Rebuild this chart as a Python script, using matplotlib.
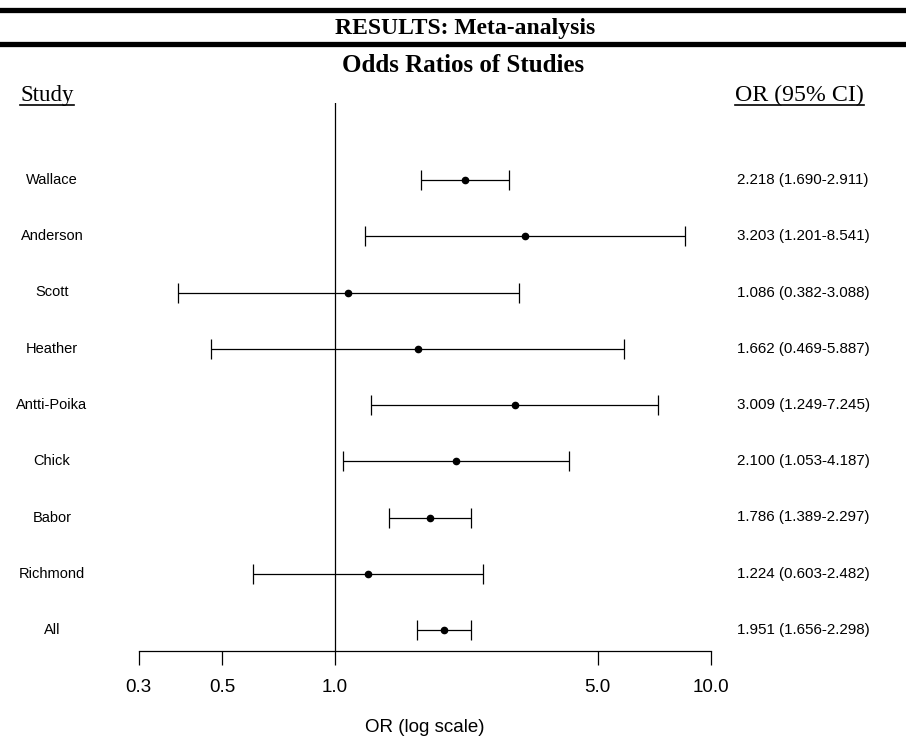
import matplotlib
matplotlib.use('Agg')
import matplotlib.pyplot as plt
import matplotlib.transforms as mtransforms
from matplotlib.lines import Line2D

studies = ['Wallace', 'Anderson', 'Scott', 'Heather', 'Antti-Poika', 'Chick', 'Babor', 'Richmond', 'All']
odds = [2.218, 3.203, 1.086, 1.662, 3.009, 2.100, 1.786, 1.224, 1.951]
lower = [1.690, 1.201, 0.382, 0.469, 1.249, 1.053, 1.389, 0.603, 1.656]
upper = [2.911, 8.541, 3.088, 5.887, 7.245, 4.187, 2.297, 2.482, 2.298]
tick_vals = [0.3, 0.5, 1.0, 5.0, 10.0]
tick_labels = ['0.3', '0.5', '1.0', '5.0', '10.0']

serif = ['Liberation Serif', 'DejaVu Serif']
sans = ['Liberation Sans', 'DejaVu Sans']

fig = plt.figure(figsize=(9.06, 7.37), dpi=100)
W, H = 906, 737

ax = fig.add_axes([138.6 / W, 1 - 651 / H, (710.7 - 138.6) / W, (651 - 103) / H])

ypos = list(range(len(studies)))
xerr = [[o - l for o, l in zip(odds, lower)], [u - o for o, u in zip(odds, upper)]]
ax.errorbar(odds, ypos, xerr=xerr, fmt='o', color='black', ms=4.5,
            elinewidth=0.9, capsize=7.5, capthick=0.9)
ax.axvline(1.0, color='black', lw=0.9)

ax.set_xscale('log')
ax.set_xlim(0.3, 10)
ax.set_ylim(8 + 21 / 56.25, -77 / 56.25)
ax.set_xticks(tick_vals)
ax.set_xticklabels(tick_labels, fontfamily=sans, fontsize=13.5)
ax.xaxis.set_minor_locator(matplotlib.ticker.NullLocator())
ax.tick_params(axis='x', direction='out', length=10, width=0.9, pad=10)
ax.set_yticks([])
for s in ['top', 'left', 'right']:
    ax.spines[s].set_visible(False)
ax.spines['bottom'].set_linewidth(0.9)
ax.set_xlabel('OR (log scale)', fontfamily=sans, fontsize=13.5, labelpad=17)

# study names and OR text columns
trans = mtransforms.blended_transform_factory(fig.transFigure, ax.transData)
for i, name in enumerate(studies):
    ax.text(52 / W, i, name, transform=trans, ha='center', va='center',
            fontfamily=sans, fontsize=10.5, clip_on=False)
    txt = '%.3f (%.3f-%.3f)' % (odds[i], lower[i], upper[i])
    ax.text(737 / W, i, txt, transform=trans, ha='left', va='center',
            fontfamily=sans, fontsize=10.9, clip_on=False)

# header
fig.add_artist(Line2D([0, 1], [1 - 10 / H, 1 - 10 / H], color='black', lw=3.8))
fig.add_artist(Line2D([0, 1], [1 - 44 / H, 1 - 44 / H], color='black', lw=3.8))
fig.text(465 / W, 1 - 34 / H, 'RESULTS: Meta-analysis', ha='center', va='baseline',
         fontfamily=serif, fontweight='bold', fontsize=17)
fig.text(463 / W, 1 - 72 / H, 'Odds Ratios of Studies', ha='center', va='baseline',
         fontfamily=serif, fontweight='bold', fontsize=18)
t1 = fig.text(20 / W, 1 - 101 / H, 'Study', ha='left', va='baseline',
              fontfamily=serif, fontsize=16.5)
t2 = fig.text(735 / W, 1 - 101 / H, 'OR (95% CI)', ha='left', va='baseline',
              fontfamily=serif, fontsize=17.2)

fig.canvas.draw()
r = fig.canvas.get_renderer()
for t in [t1, t2]:
    bb = t.get_window_extent(r).transformed(fig.transFigure.inverted())
    yl = 1 - 104.5 / H
    fig.add_artist(Line2D([bb.x0, bb.x1], [yl, yl], color='black', lw=1.2))

fig.savefig('out.png', dpi=100)
